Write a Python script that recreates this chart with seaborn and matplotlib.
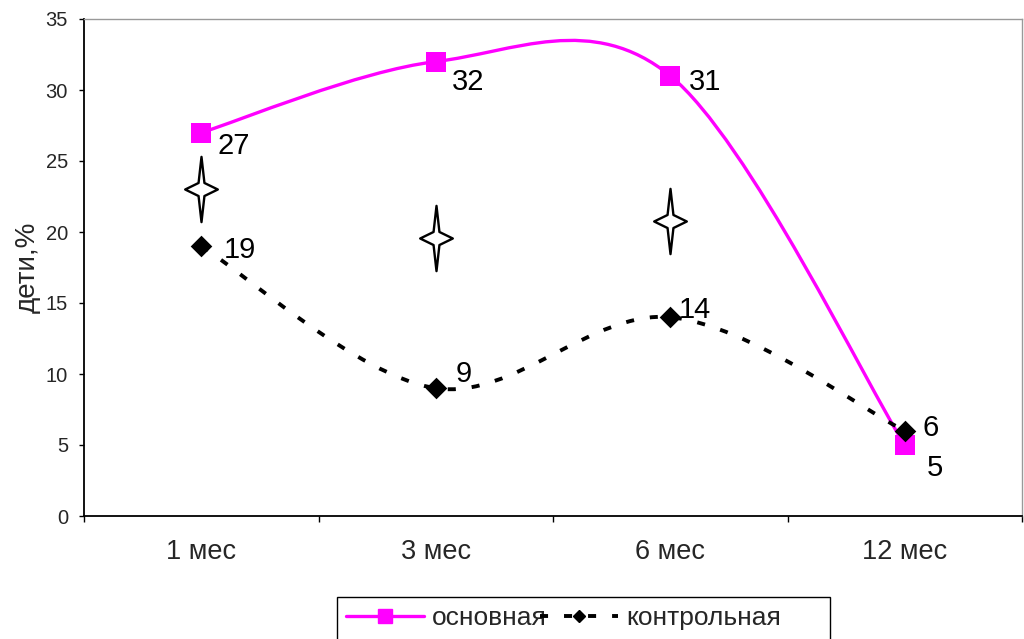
import numpy as np
import pandas as pd
import matplotlib
matplotlib.use("Agg")
import matplotlib.pyplot as plt
import seaborn as sns
from matplotlib.path import Path
from matplotlib.patches import PathPatch, Rectangle
from matplotlib.lines import Line2D

# ---------------- data ----------------
categories = ["1 мес", "3 мес", "6 мес", "12 мес"]
main_values = [27, 32, 31, 5]          # основная
control_values = [19, 9, 14, 6]        # контрольная
star_values = [23.0, 19.6, 20.8]       # significance markers (1, 3, 6 мес)
series_names = ["основная", "контрольная"]
y_label = "дети,%"
y_ticks = [0, 5, 10, 15, 20, 25, 30, 35]

# ---------------- styles ----------------
MAGENTA = "#FF00FF"
main_label_offsets = [(11.5, -9.5), (11.5, -14.5), (13.5, -4.5), (16, -16.5)]
control_label_offsets = [(16, -3), (14, 10), (6, 5), (13, 2)]

sns.set_theme(style="white")
plt.rcParams["font.family"] = ["Liberation Sans", "DejaVu Sans"]
plt.rcParams["lines.scale_dashes"] = False

fig = plt.figure(figsize=(10.24, 6.39), dpi=100)
ax = fig.add_axes([84 / 1024, 1 - 516 / 639, (1022 - 84) / 1024, (516 - 19) / 639])

x = np.arange(len(categories))


def smooth_path(xs, ys):
    pts = np.column_stack([xs, ys]).astype(float)
    n = len(pts)
    verts = [pts[0]]
    codes = [Path.MOVETO]
    for i in range(n - 1):
        p0 = pts[max(i - 1, 0)]
        p1 = pts[i]
        p2 = pts[i + 1]
        p3 = pts[min(i + 2, n - 1)]
        c1 = p1 + (p2 - p0) / 6.0
        c2 = p2 - (p3 - p1) / 6.0
        verts += [c1, c2, p2]
        codes += [Path.CURVE4] * 3
    return Path(verts, codes)


# main series (smoothed line + square markers)
ax.add_patch(PathPatch(smooth_path(x, main_values), fill=False,
                       edgecolor=MAGENTA, linewidth=2.4, zorder=2))
sns.scatterplot(x=x, y=main_values, marker="s", color=MAGENTA, s=14 ** 2,
                linewidth=0, ax=ax, zorder=3, legend=False)

# control series (smoothed dashed line + diamond markers)
ax.add_patch(PathPatch(smooth_path(x, control_values), fill=False,
                       edgecolor="black", linewidth=2.8,
                       linestyle=(0, (5.8, 11.5)), capstyle="butt", zorder=4))
sns.scatterplot(x=x, y=control_values, marker="D", color="black", s=11 ** 2,
                linewidth=0, ax=ax, zorder=5, legend=False)

# star markers
star_path = Path([(0, 1), (0.09, 0.2), (0.5, 0), (0.09, -0.2), (0, -1),
                  (-0.09, -0.2), (-0.5, 0), (-0.09, 0.2), (0, 1)],
                 [Path.MOVETO] + [Path.LINETO] * 7 + [Path.CLOSEPOLY])
sns.scatterplot(x=x[:len(star_values)], y=star_values, marker=star_path,
                s=47 ** 2, facecolor="white", edgecolor="black", linewidth=1.7,
                ax=ax, zorder=6, legend=False)

# data labels
for xi, v, off in zip(x, main_values, main_label_offsets):
    ax.annotate(str(v), (xi, v), xytext=off, textcoords="offset points",
                ha="left", va="center", fontsize=21, color="black", zorder=7)
for xi, v, off in zip(x, control_values, control_label_offsets):
    ax.annotate(str(v), (xi, v), xytext=off, textcoords="offset points",
                ha="left", va="center", fontsize=21, color="black", zorder=7)

# axes
ax.set_xlim(-0.5, len(categories) - 0.5)
ax.set_ylim(0, 35)
ax.set_yticks(y_ticks)
ax.set_yticklabels([str(t) for t in y_ticks], fontsize=14.5)
ax.set_xticks(x)
ax.set_xticklabels(categories, fontsize=19.5)
ax.set_xticks(np.arange(-0.5, len(categories)), minor=True)
ax.tick_params(axis="x", which="major", length=0, pad=16.5)
ax.tick_params(axis="x", which="minor", length=4, width=1, color="black",
               direction="out", bottom=True)
ax.tick_params(axis="y", which="major", length=3.6, width=1, color="black",
               direction="out", left=True, pad=8)
ax.set_ylabel(y_label, fontsize=20, labelpad=3.5)
ax.set_xlabel("")

for side in ["left", "bottom"]:
    ax.spines[side].set_color("black")
    ax.spines[side].set_linewidth(1.3)
for side in ["top", "right"]:
    ax.spines[side].set_color("#999999")
    ax.spines[side].set_linewidth(1.0)
    ax.spines[side].set_visible(True)

# legend
handles = [
    Line2D([], [], color=MAGENTA, linewidth=2.4, marker="s", markersize=9.5),
    Line2D([], [], color="black", linewidth=2.8, linestyle=(0, (5.8, 11.5)),
           marker="D", markersize=6.5, dash_capstyle="butt"),
]
leg = fig.legend(handles, series_names, loc="upper left",
                 bbox_to_anchor=(337 / 1024, 1 - 597 / 639),
                 bbox_transform=fig.transFigure, ncol=2, fontsize=19,
                 frameon=False, handlelength=2.95, handletextpad=0.3,
                 columnspacing=-0.25, borderpad=0.35, borderaxespad=0,
                 numpoints=1)
fig.patches.append(Rectangle((337 / 1024, -0.05), (830 - 337) / 1024,
                             0.05 + 1 - 597 / 639, transform=fig.transFigure,
                             fill=False, edgecolor="black", linewidth=1.0,
                             figure=fig))

fig.savefig("out.png", dpi=100, facecolor="white")
